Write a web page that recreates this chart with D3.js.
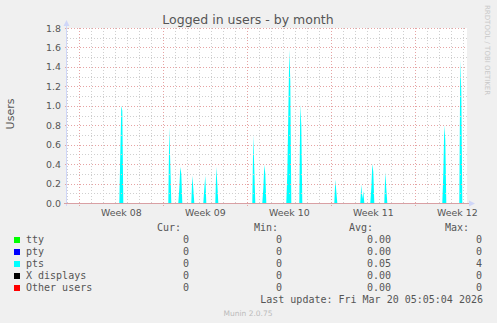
<!DOCTYPE html>
<html>
<head>
<meta charset="utf-8">
<script src="https://cdn.jsdelivr.net/npm/d3@7"></script>
<style>
body { margin: 0; background: #f0f0f0; }
svg { display: block; }
</style>
</head>
<body>
<div id="chart"></div>
<script>
// pts samples (2 hour averages), zero between the spikes
var times = [
  "2026-02-14T23:24", "2026-02-19T08:00", "2026-02-19T10:00", "2026-02-19T12:00", "2026-02-19T14:00", "2026-02-19T16:00",
  "2026-02-23T10:00", "2026-02-23T12:00", "2026-02-23T14:00", "2026-02-23T16:00",
  "2026-02-24T06:00", "2026-02-24T08:00", "2026-02-24T10:00", "2026-02-24T12:00", "2026-02-24T14:00",
  "2026-02-25T08:00", "2026-02-25T10:00", "2026-02-25T12:00", "2026-02-25T14:00",
  "2026-02-26T08:00", "2026-02-26T10:00", "2026-02-26T12:00", "2026-02-26T14:00",
  "2026-02-27T08:00", "2026-02-27T10:00", "2026-02-27T12:00", "2026-02-27T14:00",
  "2026-03-02T10:00", "2026-03-02T12:00", "2026-03-02T14:00", "2026-03-02T16:00",
  "2026-03-03T06:00", "2026-03-03T08:00", "2026-03-03T10:00", "2026-03-03T12:00", "2026-03-03T14:00",
  "2026-03-05T06:00", "2026-03-05T08:00", "2026-03-05T10:00", "2026-03-05T12:00", "2026-03-05T14:00", "2026-03-05T16:00",
  "2026-03-06T08:00", "2026-03-06T10:00", "2026-03-06T12:00", "2026-03-06T14:00",
  "2026-03-09T06:00", "2026-03-09T08:00", "2026-03-09T10:00", "2026-03-09T12:00",
  "2026-03-11T10:00", "2026-03-11T12:00", "2026-03-11T14:00", "2026-03-11T16:00", "2026-03-11T18:00",
  "2026-03-12T06:00", "2026-03-12T08:00", "2026-03-12T10:00", "2026-03-12T12:00", "2026-03-12T14:00",
  "2026-03-13T10:00", "2026-03-13T12:00", "2026-03-13T14:00", "2026-03-13T16:00",
  "2026-03-18T06:00", "2026-03-18T08:00", "2026-03-18T10:00", "2026-03-18T12:00", "2026-03-18T14:00",
  "2026-03-19T16:00", "2026-03-19T18:00", "2026-03-19T20:00", "2026-03-19T22:00",
  "2026-03-20T07:24"
];
var pts = [
  0, 0, 0.5, 1.0, 0.95, 0,
  0, 0.78, 0.4, 0,
  0, 0.15, 0.37, 0.3, 0,
  0, 0.28, 0.15, 0,
  0, 0.15, 0.28, 0,
  0, 0.37, 0.2, 0,
  0, 0.70, 0.35, 0,
  0, 0.15, 0.39, 0.3, 0,
  0, 0.3, 0.9, 1.58, 1.25, 0,
  0, 1.01, 0.8, 0,
  0, 0.24, 0.12, 0,
  0, 0.19, 0.04, 0.12, 0,
  0, 0.15, 0.40, 0.32, 0,
  0, 0.32, 0.15, 0,
  0, 0.3, 0.80, 0.65, 0,
  0, 1.47, 1.15, 0,
  0
];

var names = ["tty", "pty", "pts", "X displays", "Other users"];
var colours = ["#00ff00", "#0000ff", "#00ffff", "#000000", "#ff0000"];
var curVals = [0, 0, 0, 0, 0];
var minVals = [0, 0, 0, 0, 0];
var avgVals = [0, 0, 0.05, 0, 0];
var maxVals = [0, 0, 4, 0, 0];

var yTicks = [0, 0.2, 0.4, 0.6, 0.8, 1.0, 1.2, 1.4, 1.6, 1.8];
var weekLabels = ["Week 08", "Week 09", "Week 10", "Week 11", "Week 12"];
var weekStarts = ["2026-02-16", "2026-02-23", "2026-03-02", "2026-03-09", "2026-03-16"];

var W = 497, H = 323;
var plot = {left: 67, right: 467, top: 28, bottom: 203};

var svg = d3.select("#chart").append("svg")
    .attr("width", W)
    .attr("height", H);

svg.append("rect").attr("width", W).attr("height", H).attr("fill", "#f0f0f0");

var parse = function(s) { return new Date(s + (s.length > 10 ? "Z" : "T00:00Z")); };

var x = d3.scaleUtc()
    .domain([parse("2026-02-14T23:24"), parse("2026-03-20T07:24")])
    .range([plot.left, plot.right]);

var y = d3.scaleLinear()
    .domain([0, 1.8])
    .range([plot.bottom, plot.top]);

// canvas
svg.append("rect")
    .attr("x", plot.left).attr("y", plot.top)
    .attr("width", plot.right - plot.left).attr("height", plot.bottom - plot.top)
    .attr("fill", "#ffffff");

// data area
var data = times.map(function(t, i) { return {t: parse(t), v: pts[i]}; });
var area = d3.area()
    .x(function(d) { return x(d.t); })
    .y0(y(0))
    .y1(function(d) { return y(d.v); })
    .curve(d3.curveLinear);

svg.append("path")
    .datum(data)
    .attr("fill", "#00ffff")
    .attr("d", area);

// grid
var dom = x.domain();
var days = d3.utcDay.range(dom[0], dom[1]);
var mondays = d3.utcMonday.range(dom[0], dom[1]);
var grid = svg.append("g").attr("fill", "none");

grid.selectAll(".vmin")
    .data(days.filter(function(d) { return d.getUTCDay() != 1; }))
  .enter().append("line")
    .attr("x1", function(d) { return Math.round(x(d)) + 0.5; })
    .attr("x2", function(d) { return Math.round(x(d)) + 0.5; })
    .attr("y1", plot.top).attr("y2", plot.bottom)
    .attr("stroke", "#cfcfcf")
    .attr("stroke-dasharray", "1,2");

var minorY = d3.range(1, 18, 2).map(function(i) { return i / 10; });
grid.selectAll(".hmin")
    .data(minorY)
  .enter().append("line")
    .attr("x1", plot.left).attr("x2", plot.right)
    .attr("y1", function(d) { return Math.round(y(d)) + 0.5; })
    .attr("y2", function(d) { return Math.round(y(d)) + 0.5; })
    .attr("stroke", "#cfcfcf")
    .attr("stroke-dasharray", "1,2");

grid.selectAll(".vmaj")
    .data(mondays)
  .enter().append("line")
    .attr("x1", function(d) { return Math.round(x(d)) + 0.5; })
    .attr("x2", function(d) { return Math.round(x(d)) + 0.5; })
    .attr("y1", plot.top).attr("y2", plot.bottom + 3)
    .attr("stroke", "#e6a3a3")
    .attr("stroke-dasharray", "1,2");

grid.selectAll(".hmaj")
    .data(yTicks.slice(1))
  .enter().append("line")
    .attr("x1", plot.left - 2).attr("x2", plot.right)
    .attr("y1", function(d) { return Math.round(y(d)) + 0.5; })
    .attr("y2", function(d) { return Math.round(y(d)) + 0.5; })
    .attr("stroke", "#e6a3a3")
    .attr("stroke-dasharray", "1,2");

// axes
svg.append("line")
    .attr("x1", plot.left - 0.5).attr("x2", plot.left - 0.5)
    .attr("y1", plot.bottom + 3).attr("y2", plot.top - 4)
    .attr("stroke", "#cfd6f8");
svg.append("path")
    .attr("d", "M" + (plot.left - 3.5) + "," + (plot.top - 2) + "L" + (plot.left + 2.5) + "," + (plot.top - 2) + "L" + (plot.left - 0.5) + "," + (plot.top - 8) + "Z")
    .attr("fill", "#cfd6f8");

svg.append("line")
    .attr("x1", plot.left - 3).attr("x2", plot.right + 2)
    .attr("y1", plot.bottom + 0.5).attr("y2", plot.bottom + 0.5)
    .attr("stroke", "#d9a0a4");
svg.append("path")
    .attr("d", "M" + (plot.right + 2) + "," + (plot.bottom - 2.5) + "L" + (plot.right + 2) + "," + (plot.bottom + 3.5) + "L" + (plot.right + 8) + "," + (plot.bottom + 0.5) + "Z")
    .attr("fill", "#cfd6f8");

// tick labels
var fontSans = "'DejaVu Sans', sans-serif";
var fontMono = "'DejaVu Sans Mono', monospace";

svg.selectAll(".ylab")
    .data(yTicks)
  .enter().append("text")
    .attr("x", plot.left - 6)
    .attr("y", function(d) { return y(d) + 3.5; })
    .attr("text-anchor", "end")
    .style("font-family", fontSans)
    .style("font-size", "9.4px")
    .attr("fill", "#555")
    .text(d3.format(".1f"));

svg.selectAll(".xlab")
    .data(weekStarts)
  .enter().append("text")
    .attr("x", function(d) { return x(d3.utcHour.offset(parse(d), 84)); })
    .attr("y", 216)
    .attr("text-anchor", "middle")
    .style("font-family", fontSans)
    .style("font-size", "9.4px")
    .attr("fill", "#555")
    .text(function(d, i) { return weekLabels[i]; });

// title and side labels
svg.append("text")
    .attr("x", 248).attr("y", 24)
    .attr("text-anchor", "middle")
    .style("font-family", fontSans)
    .style("font-size", "12.5px")
    .attr("fill", "#555")
    .text("Logged in users - by month");

svg.append("text")
    .attr("transform", "translate(14,114) rotate(-90)")
    .attr("text-anchor", "middle")
    .style("font-family", fontSans)
    .style("font-size", "11px")
    .attr("fill", "#555")
    .text("Users");

svg.append("text")
    .attr("transform", "translate(485,5) rotate(90)")
    .attr("text-anchor", "start")
    .style("font-family", fontSans)
    .style("font-size", "7px")
    .attr("fill", "#c8c8c8")
    .text("RRDTOOL / TOBI OETIKER");

// legend table
var cols = [
  {head: "Cur:", hx: 181, vx: 189, vals: curVals, fmt: d3.format("d")},
  {head: "Min:", hx: 278, vx: 282, vals: minVals, fmt: d3.format("d")},
  {head: "Avg:", hx: 373, vx: 391, vals: avgVals, fmt: d3.format(".2f")},
  {head: "Max:", hx: 469, vx: 482, vals: maxVals, fmt: d3.format("d")}
];

var legend = svg.append("g")
    .style("font-family", fontMono)
    .style("font-size", "10px")
    .attr("fill", "#555");

cols.forEach(function(c) {
  legend.append("text")
      .attr("x", c.hx).attr("y", 231)
      .attr("text-anchor", "end")
      .text(c.head);
  legend.selectAll(null)
      .data(c.vals)
    .enter().append("text")
      .attr("x", c.vx)
      .attr("y", function(d, i) { return 243 + i * 12; })
      .attr("text-anchor", "end")
      .text(c.fmt);
});

legend.selectAll(".sw")
    .data(names)
  .enter().append("rect")
    .attr("x", 14)
    .attr("y", function(d, i) { return 237 + i * 12; })
    .attr("width", 6).attr("height", 6)
    .attr("fill", function(d, i) { return colours[i]; });

legend.selectAll(".nm")
    .data(names)
  .enter().append("text")
    .attr("x", 26)
    .attr("y", function(d, i) { return 243 + i * 12; })
    .attr("xml:space", "preserve")
    .text(function(d) { return d; });

legend.append("text")
    .attr("x", 483).attr("y", 302.5)
    .attr("text-anchor", "end")
    .text("Last update: Fri Mar 20 05:05:04 2026");

svg.append("text")
    .attr("x", 248).attr("y", 316)
    .attr("text-anchor", "middle")
    .style("font-family", fontSans)
    .style("font-size", "7.5px")
    .attr("fill", "#bbbbbb")
    .text("Munin 2.0.75");
</script>
</body>
</html>
